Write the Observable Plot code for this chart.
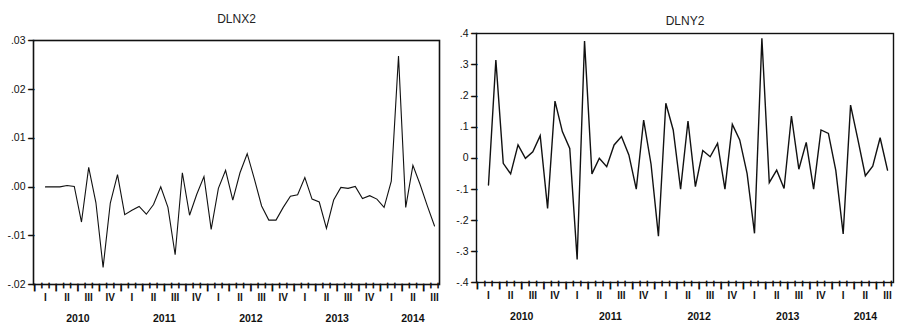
<!DOCTYPE html>
<html>
<head>
<meta charset="utf-8">
<script src="https://cdn.jsdelivr.net/npm/d3@7"></script>
<script src="https://cdn.jsdelivr.net/npm/@observablehq/plot@0.6"></script>
<style>
  body { margin: 0; background: #fff; }
  #wrap { display: flex; width: 900px; height: 332px; overflow: hidden; }
  #wrap svg { display: block; overflow: visible; }
</style>
</head>
<body>
<div id="wrap"></div>
<script>
// ---- Data (monthly, 2010M01 .. 2014M07) ----
const years = ["2010", "2011", "2012", "2013", "2014"];
const quarterLabels = ["I", "II", "III", "IV"];

const dlnx2 = [
  0.0000, 0.0000, 0.0000, 0.0003, 0.0001, -0.0072, 0.0040, -0.0032, -0.0165, -0.0033,
  0.0025, -0.0057, -0.0048, -0.0040, -0.0056, -0.0036, 0.0000, -0.0042, -0.0139, 0.0029,
  -0.0058, -0.0015, 0.0021, -0.0087, -0.0003, 0.0034, -0.0027, 0.0029, 0.0068, 0.0016,
  -0.0039, -0.0068, -0.0068, -0.0042, -0.0019, -0.0016, 0.0019, -0.0025, -0.0031, -0.0085,
  -0.0027, -0.0001, -0.0003, 0.0001, -0.0024, -0.0018, -0.0025, -0.0042, 0.0012, 0.0268,
  -0.0042, 0.0044, 0.0005, -0.0039, -0.0080
];

const dlny2 = [
  -0.087, 0.315, -0.017, -0.051, 0.042, -0.001, 0.020, 0.072, -0.162, 0.183,
  0.085, 0.031, -0.326, 0.376, -0.051, -0.001, -0.028, 0.042, 0.069, 0.010,
  -0.100, 0.122, -0.020, -0.251, 0.176, 0.090, -0.100, 0.119, -0.092, 0.024,
  0.004, 0.047, -0.100, 0.108, 0.058, -0.050, -0.242, 0.385, -0.079, -0.039,
  -0.098, 0.135, -0.036, 0.050, -0.100, 0.090, 0.079, -0.040, -0.244, 0.170,
  0.058, -0.057, -0.026, 0.065, -0.039
];

const leftTicks = [0.03, 0.02, 0.01, 0, -0.01, -0.02];
const leftTickLabels = [".03", ".02", ".01", ".00", "-.01", "-.02"];
const rightTicks = [0.4, 0.3, 0.2, 0.1, 0, -0.1, -0.2, -0.3, -0.4];
const rightTickLabels = [".4", ".3", ".2", ".1", "0", "-.1", "-.2", "-.3", "-.4"];

function panel(cfg) {
  const {title, values, ticks, tickLabels, yDomain, xDomain, width, height = 332,
         marginLeft, marginRight, marginTop, marginBottom, titleDy, lineWidth, frameWidth} = cfg;
  const n = values.length;
  const series = values.map((v, i) => ({i, v}));
  const lastQ = Math.floor((n - 1) / 3) * 3;
  const quarters = d3.range(0, n, 3).map(i => ({i, label: quarterLabels[(i / 3) % 4]}));
  const yearRows = years.map((y, k) => ({i: (12 * k + Math.min(12 * k + 9, lastQ)) / 2, label: y}));
  const monthTicks = d3.range(-2, n + 1).map(i => i + 0.5).filter(t => t > xDomain[0] && t < xDomain[1]);
  const majorTicks = monthTicks.filter(t => ((t - 1.5) % 3 + 3) % 3 === 0);
  const minorTicks = monthTicks.filter(t => !majorTicks.includes(t));
  const yTickRows = ticks.map((t, k) => ({t, label: tickLabels[k]}));

  const tickGlyph = (data, size) => Plot.text(data, {
    x: d => d, text: () => "|", frameAnchor: "bottom", lineAnchor: "top", dy: -0.5,
    fontSize: size, fontFamily: "'Liberation Sans', Arial, sans-serif",
    fill: "#111", stroke: "#111", strokeWidth: 1.1
  });

  return Plot.plot({
    width,
    height,
    marginLeft, marginRight, marginTop, marginBottom,
    style: {fontFamily: "'Liberation Sans', Arial, sans-serif", fontSize: "10px", background: "#fff", overflow: "visible"},
    x: {domain: xDomain, axis: null},
    y: {domain: yDomain, axis: null},
    marks: [
      // y ticks (short dashes at the frame edge) + labels
      Plot.text(yTickRows, {y: "t", text: () => "\u2014", frameAnchor: "left", textAnchor: "end", dx: 0.5,
        fontSize: 5.5, fill: "#111", stroke: "#111", strokeWidth: 1}),
      Plot.text(yTickRows, {y: "t", text: "label", frameAnchor: "left", dx: -8, textAnchor: "end", fontSize: 10.5, fill: "#111"}),
      // x ticks
      tickGlyph(minorTicks, 4.5),
      tickGlyph(majorTicks, 7),
      // series
      Plot.line(series, {x: "i", y: "v", stroke: "#111", strokeWidth: lineWidth, strokeLinejoin: "miter", strokeMiterlimit: 4}),
      Plot.frame({stroke: "#111", strokeWidth: frameWidth}),
      // x labels
      Plot.text(quarters, {x: "i", text: "label", frameAnchor: "bottom", dy: 16.5, fontSize: 10, fontWeight: "bold", fill: "#111"}),
      Plot.text(yearRows, {x: "i", text: "label", frameAnchor: "bottom", dy: 37, fontSize: 10.5, fontWeight: "bold", fill: "#111"}),
      // title
      Plot.text([title], {text: d => d, frameAnchor: "top", dy: titleDy, fontSize: 12, fill: "#222"})
    ]
  });
}

const wrap = document.getElementById("wrap");
wrap.append(panel({
  title: "DLNX2", values: dlnx2, ticks: leftTicks, tickLabels: leftTickLabels,
  yDomain: [-0.02, 0.03], xDomain: [-1.66, 54.69], width: 450,
  marginLeft: 33, marginRight: 11, marginTop: 40, marginBottom: 48,
  titleDy: -26, lineWidth: 1.1, frameWidth: 1.6
}));
wrap.append(panel({
  title: "DLNY2", values: dlny2, ticks: rightTicks, tickLabels: rightTickLabels,
  yDomain: [-0.4, 0.4], xDomain: [-1.62, 54.81], width: 450,
  marginLeft: 26, marginRight: 7, marginTop: 33, marginBottom: 50,
  titleDy: -17, lineWidth: 1.4, frameWidth: 1.4
}));
</script>
</body>
</html>
